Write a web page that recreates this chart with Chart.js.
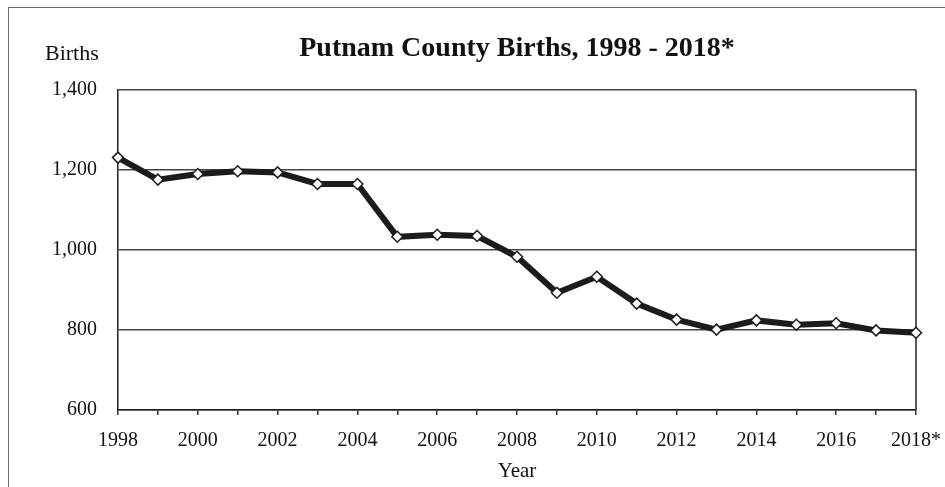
<!DOCTYPE html>
<html>
<head>
<meta charset="utf-8">
<title>Putnam County Births, 1998 - 2018*</title>
<script src="https://cdn.jsdelivr.net/npm/chart.js@4.4.1/dist/chart.umd.min.js"></script>
<style>
    html, body { margin: 0; padding: 0; background: #fff; }
    #wrap { position: relative; width: 945px; height: 487px; overflow: hidden; }
    #frame {
        position: absolute; left: 8px; top: 7px; width: 960px; height: 500px;
        border-top: 1px solid #6b6b6b; border-left: 1px solid #6b6b6b;
    }
    canvas { position: absolute; left: 0; top: 0; }
</style>
</head>
<body>
<div id="wrap">
    <canvas id="birthsChart" width="945" height="487"></canvas>
    <div id="frame"></div>
</div>
<script>
// Data
const years = ['1998', '1999', '2000', '2001', '2002', '2003', '2004', '2005', '2006', '2007',
               '2008', '2009', '2010', '2011', '2012', '2013', '2014', '2015', '2016', '2017', '2018'];
const births = [1231, 1176, 1190, 1197, 1194, 1165, 1165, 1033, 1038, 1035,
                983, 893, 933, 866, 826, 801, 824, 813, 817, 799, 793];
const tickLabels = ['1998', '2000', '2002', '2004', '2006', '2008', '2010', '2012', '2014', '2016', '2018*'];
const yTicks = [600, 800, 1000, 1200, 1400];

const chartTitle = 'Putnam County Births, 1998 - 2018*';
const serif = "'Liberation Serif', 'Times New Roman', serif";

// Right edge of the plot box, under the line
const plotBox = {
    id: 'plotBox',
    beforeDatasetsDraw(chart) {
        const { ctx, chartArea: a } = chart;
        ctx.save();
        ctx.strokeStyle = '#222';
        ctx.lineWidth = 1.5;
        ctx.beginPath();
        ctx.moveTo(a.right, a.top);
        ctx.lineTo(a.right, a.bottom);
        ctx.stroke();
        ctx.restore();
    }
};

// Title and the "Births" label sit outside the plot, draw them here
const headerText = {
    id: 'headerText',
    afterDraw(chart) {
        const ctx = chart.ctx;
        ctx.save();
        ctx.fillStyle = '#111';
        ctx.textBaseline = 'alphabetic';
        ctx.font = 'bold 28px ' + serif;
        ctx.textAlign = 'center';
        ctx.fillText(chartTitle, 517, 56);
        ctx.font = '22px ' + serif;
        ctx.textAlign = 'left';
        ctx.fillText('Births', 45, 60);
        ctx.restore();
    }
};

new Chart(document.getElementById('birthsChart'), {
    type: 'line',
    data: {
        labels: years,
        datasets: [{
            data: births,
            borderColor: '#1c1c1c',
            borderWidth: 6,
            tension: 0,
            pointStyle: 'rectRot',
            pointRadius: 5.5,
            pointBackgroundColor: '#fff',
            pointBorderColor: '#1c1c1c',
            pointBorderWidth: 1.5
        }]
    },
    options: {
        responsive: false,
        animation: false,
        layout: { padding: { top: 90, right: 29, left: 0, bottom: 0 } },
        plugins: {
            legend: { display: false },
            tooltip: { enabled: false }
        },
        scales: {
            x: {
                offset: false,
                grid: { drawOnChartArea: false, tickLength: 5, color: '#333', lineWidth: 1.5 },
                border: { color: '#222', width: 1.5 },
                ticks: {
                    autoSkip: false, maxRotation: 0, padding: 14,
                    color: '#111', font: { family: serif, size: 20 },
                    callback: (v, i) => (i % 2 === 0 ? tickLabels[i / 2] : '')
                },
                title: {
                    display: true, text: 'Year', color: '#111',
                    font: { family: serif, size: 21 }, padding: { top: 0, bottom: 3 }
                },
                afterFit: s => { s.height = 77; s.paddingLeft = 0; s.paddingRight = 0; }
            },
            y: {
                min: yTicks[0], max: yTicks[yTicks.length - 1],
                afterBuildTicks: s => { s.ticks = yTicks.map(v => ({ value: v })); },
                grid: { drawTicks: false, color: '#444', lineWidth: 1.5 },
                border: { color: '#222', width: 1.5 },
                ticks: {
                    padding: 21, color: '#111', font: { family: serif, size: 20 },
                    callback: v => v.toLocaleString('en-US')
                },
                afterFit: s => { s.width = 118; s.paddingTop = 0; s.paddingBottom = 0; }
            }
        }
    },
    plugins: [plotBox, headerText]
});
</script>
</body>
</html>
